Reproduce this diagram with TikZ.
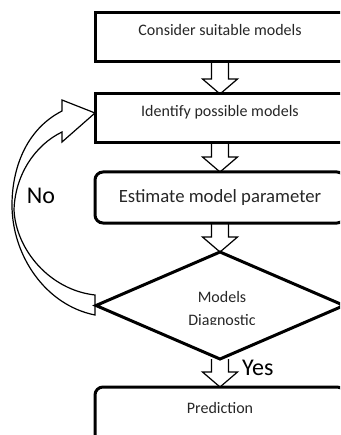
\documentclass[tikz,border=0pt]{standalone}
\usepackage{fontspec}
\setmainfont{Carlito}
\usetikzlibrary{calc,shapes.geometric}
\newcommand\blockarrow[2]{%
  \draw[blockarr] let \p1=(#1.south), \p2=(#2.north) in
    (\x1-8.5pt,\y1) -- (\x1-8.5pt,\y2+15pt) -- (\x1-17.5pt,\y2+15pt) -- (\x1,\y2)
    -- (\x1+17.5pt,\y2+15pt) -- (\x1+8.5pt,\y2+15pt) -- (\x1+8.5pt,\y1);}
\begin{document}
\begin{tikzpicture}[x=1pt,y=-1pt,
  box/.style={draw=black, line width=3pt, minimum width=250pt, inner sep=0pt, outer sep=0pt},
  rbox/.style={box, rounded corners=8pt},
  dbox/.style={draw=black, line width=3pt, diamond, minimum width=248pt, minimum height=107pt, inner sep=0pt, outer sep=0pt},
  txt/.style={font=\fontsize{16}{18}\selectfont, text=black!85, inner sep=0pt, anchor=base},
  bigtxt/.style={font=\fontsize{24}{28}\selectfont, text=black, inner sep=0pt, anchor=base},
  blockarr/.style={draw=black, line width=1.2pt, line join=miter},
  ]
\useasboundingbox (0,0) rectangle (340,435);
\clip (0,0) rectangle (340,435);
% boxes
\node[box, minimum height=49pt] (b1) at (220,37.5) {};
\node[box, minimum height=49pt] (b2) at (220,118.5) {};
\node[rbox, minimum height=51pt] (b3) at (220,197.5) {};
\node[dbox] (d4) at (220,305.5) {};
\node[rbox, minimum height=58pt] (b5) at (220,416) {};
% texts
\node[txt] (t1) at (220,36) {Consider suitable models};
\node[txt] (t2) at (220,117) {Identify possible models};
\node[txt, font=\fontsize{18.7}{21}\selectfont] (t3) at (220,203) {Estimate model parameter};
\node[txt] (t4a) at (222,302) {Models};
\begin{scope}
  \clip (100,250) rectangle (340,324.5);
  \node[txt] (t4b) at (222,325.5) {Diagnostic};
\end{scope}
\node[txt] (t5) at (220,413) {Prediction};
\node[bigtxt] (no) at (41,204) {No};
\node[bigtxt, anchor=base west] (yes) at (242,375) {Yes};
% block arrows
\blockarrow{b1}{b2}
\blockarrow{b2}{b3}
\blockarrow{b3}{d4}
\blockarrow{d4}{b5}
% loop arrow (No)
\draw[blockarr] (95,315) .. controls (45,305) and (12,255) .. (12,205)
  .. controls (12,170) and (25,130) .. (62,111) -- (62,100) -- (95,113)
  -- (62,142) -- (62,132) .. controls (35,145) and (15,175) .. (14,210)
  .. controls (16,250) and (50,290) .. (95,295) -- cycle;
\end{tikzpicture}
\end{document}
